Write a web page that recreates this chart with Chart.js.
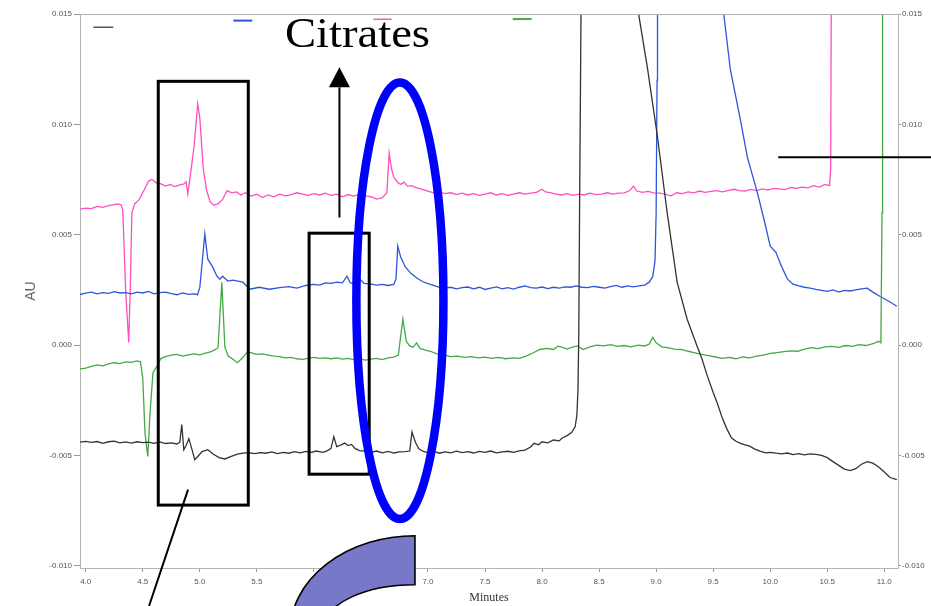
<!DOCTYPE html>
<html><head><meta charset="utf-8">
<script src="https://cdn.jsdelivr.net/npm/chart.js@4.4.1/dist/chart.umd.min.js"></script>
<style>html,body{margin:0;padding:0;background:#fff;overflow:hidden}</style>
</head><body>
<canvas id="c" width="931" height="606"></canvas>
<script>
// ---- axis ticks ----
const xTicks = [4.0,4.5,5.0,5.5,6.0,6.5,7.0,7.5,8.0,8.5,9.0,9.5,10.0,10.5,11.0];
const yTicks = [-0.010,-0.005,0.000,0.005,0.010,0.015];
const xRange = [3.95, 11.12];
const yRange = [-0.0101, 0.015];

// ---- traces: [minutes, AU] ----
const blackTrace = [[3.95,-0.00440],[4.00,-0.00436],[4.05,-0.00441],[4.10,-0.00437],[4.15,-0.00445],[4.20,-0.00438],[4.25,-0.00435],[4.30,-0.00443],[4.35,-0.00439],[4.40,-0.00444],[4.45,-0.00438],[4.50,-0.00442],[4.55,-0.00440],[4.60,-0.00445],[4.65,-0.00439],[4.70,-0.00446],[4.75,-0.00443],[4.80,-0.00448],[4.825,-0.00440],[4.842,-0.00360],[4.86,-0.00474],[4.88,-0.00455],[4.904,-0.00424],[4.93,-0.00470],[4.956,-0.00519],[4.99,-0.00500],[5.02,-0.00483],[5.07,-0.00474],[5.12,-0.00495],[5.17,-0.00510],[5.22,-0.00516],[5.27,-0.00505],[5.33,-0.00494],[5.38,-0.00490],[5.43,-0.00487],[5.48,-0.00492],[5.53,-0.00487],[5.58,-0.00490],[5.63,-0.00484],[5.68,-0.00492],[5.73,-0.00486],[5.78,-0.00490],[5.83,-0.00483],[5.88,-0.00488],[5.93,-0.00482],[5.98,-0.00486],[6.02,-0.00480],[6.08,-0.00486],[6.12,-0.00478],[6.15,-0.00468],[6.175,-0.00415],[6.20,-0.00460],[6.24,-0.00452],[6.27,-0.00444],[6.30,-0.00455],[6.33,-0.00450],[6.36,-0.00468],[6.40,-0.00478],[6.45,-0.00480],[6.50,-0.00486],[6.55,-0.00480],[6.60,-0.00488],[6.65,-0.00482],[6.70,-0.00489],[6.75,-0.00484],[6.80,-0.00483],[6.84,-0.00480],[6.86,-0.00394],[6.89,-0.00440],[6.92,-0.00470],[6.96,-0.00482],[7.00,-0.00487],[7.05,-0.00481],[7.10,-0.00490],[7.15,-0.00484],[7.20,-0.00488],[7.25,-0.00481],[7.30,-0.00487],[7.35,-0.00483],[7.40,-0.00489],[7.45,-0.00482],[7.50,-0.00486],[7.55,-0.00480],[7.60,-0.00488],[7.65,-0.00484],[7.70,-0.00481],[7.75,-0.00486],[7.80,-0.00479],[7.85,-0.00476],[7.90,-0.00462],[7.93,-0.00445],[7.97,-0.00452],[8.00,-0.00438],[8.05,-0.00443],[8.10,-0.00430],[8.15,-0.00434],[8.18,-0.00420],[8.22,-0.00410],[8.26,-0.00395],[8.29,-0.00370],[8.305,-0.00320],[8.315,-0.00200],[8.322,0.00050],[8.33,0.00700],[8.34,0.01400],[8.35,0.02000],[8.40,0.04000],[8.80,0.04000],[8.84,0.01520],[8.921,0.01265],[9.009,0.00954],[9.096,0.00602],[9.184,0.00285],[9.272,0.00117],[9.36,-0.00006],[9.40,-0.00060],[9.45,-0.00142],[9.50,-0.00215],[9.535,-0.00262],[9.58,-0.00330],[9.623,-0.00383],[9.66,-0.00420],[9.70,-0.00436],[9.74,-0.00445],[9.78,-0.00452],[9.82,-0.00458],[9.86,-0.00470],[9.91,-0.00480],[9.96,-0.00488],[10.00,-0.00486],[10.05,-0.00490],[10.10,-0.00493],[10.15,-0.00489],[10.20,-0.00496],[10.25,-0.00492],[10.30,-0.00497],[10.35,-0.00493],[10.40,-0.00495],[10.45,-0.00500],[10.50,-0.00510],[10.55,-0.00528],[10.60,-0.00545],[10.65,-0.00562],[10.70,-0.00569],[10.75,-0.00560],[10.80,-0.00540],[10.85,-0.00528],[10.90,-0.00535],[10.95,-0.00552],[11.00,-0.00575],[11.05,-0.00600],[11.11,-0.00610]];

const blueTrace = [[3.95,0.00229],[4.00,0.00235],[4.05,0.00240],[4.10,0.00232],[4.15,0.00238],[4.20,0.00234],[4.25,0.00242],[4.30,0.00236],[4.35,0.00238],[4.40,0.00232],[4.45,0.00240],[4.50,0.00236],[4.55,0.00243],[4.60,0.00232],[4.65,0.00238],[4.70,0.00240],[4.75,0.00233],[4.80,0.00228],[4.85,0.00236],[4.90,0.00230],[4.95,0.00232],[4.98,0.00228],[5.00,0.00260],[5.044,0.00503],[5.07,0.00389],[5.11,0.00357],[5.15,0.00312],[5.175,0.00298],[5.20,0.00312],[5.246,0.00290],[5.29,0.00294],[5.377,0.00285],[5.44,0.00253],[5.52,0.00262],[5.61,0.00253],[5.70,0.00260],[5.78,0.00265],[5.85,0.00258],[5.93,0.00270],[6.00,0.00275],[6.05,0.00272],[6.10,0.00282],[6.15,0.00280],[6.20,0.00285],[6.25,0.00282],[6.29,0.00312],[6.32,0.00282],[6.36,0.00278],[6.40,0.00300],[6.44,0.00280],[6.50,0.00276],[6.55,0.00272],[6.60,0.00275],[6.65,0.00270],[6.70,0.00275],[6.72,0.00300],[6.735,0.00448],[6.76,0.00400],[6.80,0.00355],[6.85,0.00325],[6.90,0.00305],[6.95,0.00288],[7.00,0.00278],[7.05,0.00270],[7.10,0.00262],[7.15,0.00258],[7.20,0.00262],[7.25,0.00255],[7.30,0.00260],[7.35,0.00263],[7.40,0.00255],[7.45,0.00262],[7.50,0.00252],[7.55,0.00258],[7.60,0.00264],[7.65,0.00255],[7.70,0.00260],[7.75,0.00254],[7.80,0.00262],[7.85,0.00268],[7.90,0.00260],[7.95,0.00258],[8.00,0.00263],[8.05,0.00256],[8.10,0.00262],[8.15,0.00258],[8.20,0.00264],[8.25,0.00262],[8.30,0.00268],[8.35,0.00262],[8.40,0.00260],[8.45,0.00266],[8.50,0.00262],[8.55,0.00258],[8.60,0.00265],[8.65,0.00270],[8.70,0.00262],[8.75,0.00268],[8.80,0.00264],[8.85,0.00268],[8.90,0.00272],[8.94,0.00285],[8.97,0.00310],[8.99,0.00380],[9.00,0.00600],[9.008,0.01200],[9.012,0.01560],[9.05,0.04000],[9.55,0.04000],[9.588,0.01520],[9.65,0.01250],[9.737,0.01025],[9.80,0.00850],[9.886,0.00693],[9.95,0.00560],[10.00,0.00448],[10.05,0.00420],[10.088,0.00370],[10.15,0.00300],[10.20,0.00276],[10.25,0.00268],[10.30,0.00262],[10.35,0.00258],[10.40,0.00252],[10.45,0.00248],[10.50,0.00243],[10.55,0.00250],[10.60,0.00240],[10.65,0.00248],[10.70,0.00245],[10.75,0.00250],[10.80,0.00255],[10.85,0.00258],[10.90,0.00240],[10.96,0.00221],[11.00,0.00210],[11.05,0.00195],[11.11,0.00176]];

const pinkTrace = [[3.95,0.00616],[4.00,0.00620],[4.05,0.00618],[4.10,0.00628],[4.15,0.00624],[4.20,0.00632],[4.25,0.00636],[4.28,0.00640],[4.31,0.00636],[4.325,0.00610],[4.35,0.00250],[4.377,0.00012],[4.39,0.00250],[4.405,0.00600],[4.43,0.00640],[4.47,0.00660],[4.51,0.00700],[4.55,0.00742],[4.58,0.00750],[4.62,0.00735],[4.66,0.00730],[4.70,0.00720],[4.74,0.00728],[4.78,0.00718],[4.82,0.00725],[4.86,0.00730],[4.88,0.00740],[4.895,0.00685],[4.92,0.00780],[4.95,0.00900],[4.982,0.01093],[5.00,0.01030],[5.03,0.00800],[5.06,0.00700],[5.09,0.00650],[5.12,0.00634],[5.16,0.00640],[5.20,0.00660],[5.24,0.00700],[5.28,0.00690],[5.32,0.00694],[5.36,0.00680],[5.40,0.00690],[5.45,0.00675],[5.50,0.00684],[5.55,0.00668],[5.60,0.00680],[5.65,0.00672],[5.70,0.00684],[5.75,0.00676],[5.80,0.00682],[5.85,0.00690],[5.90,0.00684],[5.95,0.00678],[6.00,0.00686],[6.05,0.00680],[6.10,0.00688],[6.15,0.00678],[6.20,0.00684],[6.25,0.00672],[6.30,0.00682],[6.35,0.00675],[6.40,0.00684],[6.45,0.00676],[6.50,0.00672],[6.55,0.00661],[6.60,0.00668],[6.64,0.00690],[6.66,0.00870],[6.68,0.00800],[6.70,0.00760],[6.73,0.00740],[6.76,0.00728],[6.79,0.00738],[6.82,0.00720],[6.86,0.00722],[6.90,0.00712],[6.95,0.00705],[7.00,0.00698],[7.05,0.00690],[7.10,0.00694],[7.15,0.00686],[7.20,0.00690],[7.25,0.00682],[7.30,0.00688],[7.35,0.00680],[7.40,0.00686],[7.45,0.00678],[7.50,0.00684],[7.55,0.00690],[7.60,0.00680],[7.65,0.00686],[7.70,0.00678],[7.75,0.00684],[7.80,0.00690],[7.85,0.00684],[7.90,0.00688],[7.95,0.00692],[8.00,0.00706],[8.03,0.00694],[8.08,0.00690],[8.12,0.00684],[8.17,0.00680],[8.22,0.00686],[8.27,0.00678],[8.32,0.00684],[8.37,0.00680],[8.42,0.00688],[8.47,0.00682],[8.52,0.00684],[8.57,0.00690],[8.62,0.00684],[8.67,0.00688],[8.72,0.00690],[8.77,0.00700],[8.80,0.00720],[8.83,0.00698],[8.88,0.00692],[8.93,0.00696],[8.98,0.00690],[9.03,0.00688],[9.08,0.00684],[9.13,0.00676],[9.18,0.00690],[9.23,0.00686],[9.28,0.00694],[9.33,0.00690],[9.38,0.00698],[9.43,0.00692],[9.48,0.00696],[9.53,0.00700],[9.58,0.00694],[9.63,0.00700],[9.68,0.00706],[9.73,0.00700],[9.78,0.00698],[9.83,0.00705],[9.88,0.00700],[9.93,0.00708],[9.98,0.00702],[10.03,0.00710],[10.08,0.00708],[10.13,0.00704],[10.18,0.00714],[10.23,0.00710],[10.28,0.00716],[10.33,0.00712],[10.38,0.00722],[10.43,0.00716],[10.48,0.00728],[10.52,0.00722],[10.53,0.00800],[10.535,0.01560],[10.56,0.04000],[11.12,0.04000]];

const greenTrace = [[3.95,-0.00108],[4.00,-0.00104],[4.05,-0.00096],[4.10,-0.00090],[4.15,-0.00094],[4.20,-0.00085],[4.25,-0.00080],[4.30,-0.00084],[4.35,-0.00076],[4.40,-0.00078],[4.45,-0.00072],[4.48,-0.00076],[4.50,-0.00150],[4.52,-0.00400],[4.544,-0.00505],[4.565,-0.00300],[4.59,-0.00124],[4.62,-0.00100],[4.66,-0.00060],[4.70,-0.00052],[4.75,-0.00046],[4.80,-0.00042],[4.85,-0.00050],[4.90,-0.00044],[4.95,-0.00040],[5.00,-0.00044],[5.05,-0.00036],[5.10,-0.00030],[5.13,-0.00022],[5.16,-0.00012],[5.193,0.00284],[5.22,-0.00010],[5.25,-0.00050],[5.30,-0.00068],[5.33,-0.00080],[5.37,-0.00060],[5.42,-0.00030],[5.46,-0.00036],[5.50,-0.00042],[5.55,-0.00040],[5.60,-0.00046],[5.65,-0.00050],[5.70,-0.00052],[5.75,-0.00058],[5.80,-0.00056],[5.85,-0.00062],[5.90,-0.00065],[5.95,-0.00060],[6.00,-0.00056],[6.05,-0.00060],[6.10,-0.00058],[6.15,-0.00062],[6.20,-0.00058],[6.25,-0.00064],[6.30,-0.00060],[6.35,-0.00066],[6.40,-0.00062],[6.45,-0.00068],[6.50,-0.00064],[6.55,-0.00060],[6.60,-0.00066],[6.65,-0.00058],[6.70,-0.00055],[6.74,-0.00045],[6.78,0.00117],[6.81,0.00017],[6.84,-0.00004],[6.87,-0.00010],[6.90,0.00010],[6.93,-0.00015],[6.97,-0.00022],[7.02,-0.00028],[7.08,-0.00040],[7.14,-0.00045],[7.20,-0.00052],[7.26,-0.00050],[7.32,-0.00056],[7.38,-0.00052],[7.44,-0.00058],[7.50,-0.00055],[7.56,-0.00060],[7.62,-0.00056],[7.68,-0.00062],[7.74,-0.00058],[7.80,-0.00060],[7.86,-0.00050],[7.92,-0.00036],[7.98,-0.00020],[8.04,-0.00015],[8.10,-0.00020],[8.14,-0.00005],[8.18,-0.00010],[8.22,-0.00018],[8.26,-0.00010],[8.31,-0.00004],[8.36,-0.00020],[8.42,-0.00008],[8.48,0.00000],[8.54,-0.00004],[8.60,0.00002],[8.66,-0.00006],[8.72,-0.00002],[8.78,-0.00008],[8.84,0.00000],[8.90,-0.00004],[8.94,0.00005],[8.97,0.00035],[9.00,0.00010],[9.05,-0.00008],[9.10,-0.00012],[9.16,-0.00018],[9.22,-0.00020],[9.28,-0.00028],[9.34,-0.00035],[9.40,-0.00042],[9.46,-0.00048],[9.52,-0.00054],[9.58,-0.00060],[9.64,-0.00056],[9.70,-0.00062],[9.76,-0.00054],[9.82,-0.00058],[9.88,-0.00050],[9.94,-0.00046],[10.00,-0.00038],[10.06,-0.00034],[10.12,-0.00030],[10.18,-0.00026],[10.24,-0.00028],[10.30,-0.00018],[10.36,-0.00012],[10.42,-0.00016],[10.48,-0.00008],[10.54,-0.00006],[10.60,-0.00010],[10.66,-0.00002],[10.72,-0.00006],[10.78,0.00002],[10.84,-0.00002],[10.90,0.00006],[10.95,0.00017],[10.97,0.00010],[10.98,0.00600],[10.985,0.01560],[11.00,0.04000],[11.12,0.04000]];

const seriesColors = {black:'#333333', blue:'#2f55da', pink:'#ff4fbf', green:'#45a845'};

// ---- slide annotations, in data units (minutes, AU) ----
const legendMarks = [
  {color:'#555555', t0:4.067, t1:4.242, au:0.01440, w:1.5},
  {color:'#2f55da', t0:5.294, t1:5.460, au:0.01470, w:2},
  {color:'#ff4fbf', t0:6.521, t1:6.682, au:0.01476, w:1.5},
  {color:'#45a845', t0:7.743, t1:7.909, au:0.01477, w:2}
];
const citratesLabel = {text:'Citrates', t:5.746, au:0.01352, width:1.272};
const arrowMark = {t:6.224, tip:0.01259, base:0.01168, tail:0.00578};
const boxes = [
  {t0:4.636, t1:5.425, au0:-0.00725, au1:0.01195},
  {t0:5.958, t1:6.485, au0:-0.00585, au1:0.00507}
];
const ellipseMark = {t:6.754, au:0.00201, rt:0.3816, rau:0.00989};
const pointerLine = {t0:4.897, au0:-0.00655, t1:4.555, au1:-0.01182};
const sideLine = {t0:10.07, t1:11.5, au:0.00851};
const curvedArrow = {t:6.886, outerAU:-0.01304, outerRT:1.0965, outerRAU:0.00440, innerAU:-0.01277, innerRT:0.7895, innerRAU:0.00191};

const toPts = arr => arr.map(p => ({x:p[0], y:p[1]}));
const mk = (name, arr, col) => ({label:name, data:toPts(arr), borderColor:col, borderWidth:1.3, pointRadius:0, tension:0, fill:false});

const overlay = {
  id:'overlay',
  afterDraw(ch){
    const ctx = ch.ctx, xs = ch.scales.x, ys = ch.scales.y, a = ch.chartArea;
    const X = t => xs.getPixelForValue(t), Y = v => ys.getPixelForValue(v);
    const W = t => X(t) - X(0), H = v => Y(0) - Y(v);
    ctx.save();
    // top frame line
    ctx.strokeStyle = '#b4b4b4'; ctx.lineWidth = 1;
    ctx.beginPath(); ctx.moveTo(a.left, a.top + 0.5); ctx.lineTo(a.right, a.top + 0.5); ctx.stroke();
    // legend swatches
    legendMarks.forEach(m => {
      ctx.strokeStyle = m.color; ctx.lineWidth = m.w;
      ctx.beginPath(); ctx.moveTo(X(m.t0), Y(m.au)); ctx.lineTo(X(m.t1), Y(m.au)); ctx.stroke();
    });
    // boxes
    ctx.strokeStyle = '#000'; ctx.lineWidth = 3;
    boxes.forEach(b => {
      ctx.strokeRect(X(b.t0), Y(b.au1), X(b.t1) - X(b.t0), Y(b.au0) - Y(b.au1));
    });
    // arrow
    ctx.lineWidth = 2;
    ctx.beginPath(); ctx.moveTo(X(arrowMark.t), Y(arrowMark.tail)); ctx.lineTo(X(arrowMark.t), Y(arrowMark.base)); ctx.stroke();
    ctx.fillStyle = '#000';
    ctx.beginPath();
    ctx.moveTo(X(arrowMark.t), Y(arrowMark.tip));
    ctx.lineTo(X(arrowMark.t) - 10.5, Y(arrowMark.base));
    ctx.lineTo(X(arrowMark.t) + 10.5, Y(arrowMark.base));
    ctx.closePath(); ctx.fill();
    // Citrates label
    ctx.font = '42px "Liberation Serif", "Times New Roman", serif';
    ctx.textBaseline = 'alphabetic'; ctx.textAlign = 'left';
    const tw = ctx.measureText(citratesLabel.text).width;
    ctx.save();
    ctx.translate(X(citratesLabel.t), Y(citratesLabel.au));
    ctx.scale(W(citratesLabel.width) / tw, 1);
    ctx.fillStyle = '#000';
    ctx.fillText(citratesLabel.text, 0, 0);
    ctx.restore();
    // ellipse
    ctx.strokeStyle = '#0000ff'; ctx.lineWidth = 8.5;
    ctx.beginPath();
    ctx.ellipse(X(ellipseMark.t), Y(ellipseMark.au), W(ellipseMark.rt), H(ellipseMark.rau), 0, 0, Math.PI * 2);
    ctx.stroke();
    // pointer lines
    ctx.strokeStyle = '#000'; ctx.lineWidth = 2;
    ctx.beginPath(); ctx.moveTo(X(pointerLine.t0), Y(pointerLine.au0)); ctx.lineTo(X(pointerLine.t1), Y(pointerLine.au1)); ctx.stroke();
    ctx.beginPath(); ctx.moveTo(X(sideLine.t0), Y(sideLine.au)); ctx.lineTo(X(sideLine.t1), Y(sideLine.au)); ctx.stroke();
    // curved arrow body
    const c = curvedArrow, cx = X(c.t);
    ctx.beginPath();
    ctx.ellipse(cx, Y(c.outerAU), W(c.outerRT), H(c.outerRAU), 0, Math.PI, Math.PI * 1.5);
    ctx.lineTo(cx, Y(c.innerAU) - H(c.innerRAU));
    ctx.ellipse(cx, Y(c.innerAU), W(c.innerRT), H(c.innerRAU), 0, Math.PI * 1.5, Math.PI, true);
    ctx.closePath();
    ctx.fillStyle = '#7878c8'; ctx.fill();
    ctx.strokeStyle = '#000'; ctx.lineWidth = 1.6; ctx.stroke();
    ctx.restore();
  }
};

const tickFont = {family:'"Liberation Sans", Arial, sans-serif', size:8};
const yAxis = (pos, width) => ({
  type:'linear', position:pos, min:yRange[0], max:yRange[1],
  afterFit: s => { s.width = width; },
  afterBuildTicks: s => { s.ticks = yTicks.map(v => ({value:v})); },
  ticks:{callback: v => Number(v).toFixed(3), font:tickFont, color:'#555', padding: pos === 'left' ? 2 : 1},
  grid:{drawOnChartArea:false, drawTicks:true, tickLength: pos === 'left' ? 6 : 3, color:'#9a9a9a'},
  border:{color:'#b4b4b4', width:1}
});

const leftAxis = yAxis('left', 80);
leftAxis.title = {display:true, text:'AU', color:'#666', font:{family:'"Liberation Sans", Arial, sans-serif', size:14}, padding:{top:23, bottom:0}};
const rightAxis = yAxis('right', 33);
rightAxis.display = true;

new Chart(document.getElementById('c'), {
  type:'line',
  data:{datasets:[
    mk('Black', blackTrace, seriesColors.black),
    mk('Green', greenTrace, seriesColors.green),
    mk('Blue', blueTrace, seriesColors.blue),
    mk('Pink', pinkTrace, seriesColors.pink)
  ]},
  options:{
    responsive:false, animation:false, devicePixelRatio:1,
    layout:{padding:{top:14, left:0, right:0, bottom:0}},
    plugins:{legend:{display:false}, tooltip:{enabled:false}},
    scales:{
      x:{
        type:'linear', min:xRange[0], max:xRange[1],
        afterFit: s => { s.height = 38; },
        afterBuildTicks: s => { s.ticks = xTicks.map(v => ({value:v})); },
        ticks:{callback: v => Number(v).toFixed(1), font:tickFont, color:'#555', padding:5, maxRotation:0, autoSkip:false},
        grid:{drawOnChartArea:false, tickLength:4, color:'#9a9a9a'},
        border:{color:'#b4b4b4', width:1},
        title:{display:true, text:'Minutes', color:'#333', font:{family:'"Liberation Serif", "Times New Roman", serif', size:12}, padding:{top:0, bottom:1}}
      },
      y: leftAxis,
      y2: rightAxis
    }
  },
  plugins:[overlay]
});
</script>
</body></html>
